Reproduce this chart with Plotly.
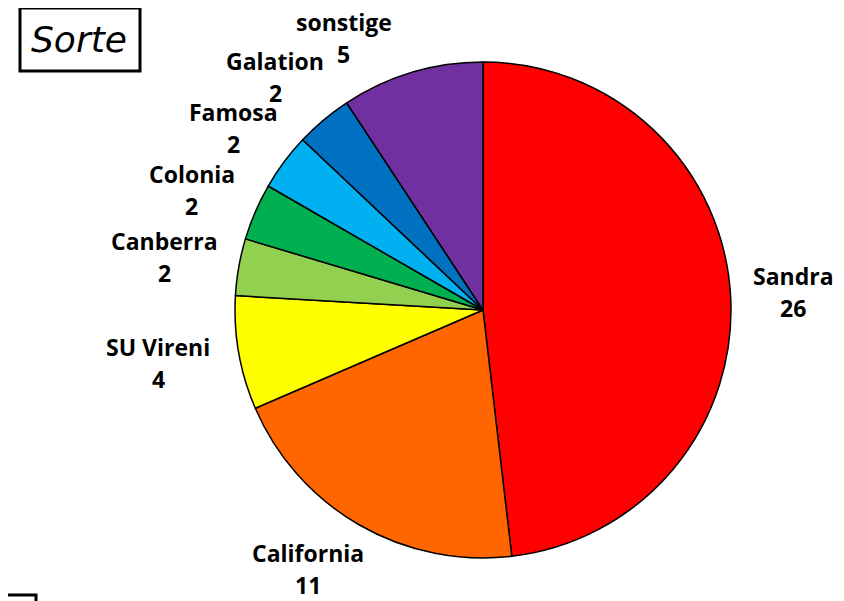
import math
import plotly.graph_objects as go

labels = ["Sandra", "California", "SU Vireni", "Canberra", "Colonia", "Famosa", "Galation", "sonstige"]
values = [26, 11, 4, 2, 2, 2, 2, 5]
colors = ["#FF0000", "#FF6600", "#FFFF00", "#92D050", "#00B050", "#00B0F0", "#0070C0", "#7030A0"]
title_text = "Sorte"

PW, PH = 844, 601          # page size
OFF = 8                    # default body margin of the html page
W, H = PW - OFF, PH - OFF  # figure size
cx, cy, R = 483, 310, 248  # pie centre / radius in page px
FS = 23                    # label font size


def px(x):
    return (x - OFF) / W


def py(y):
    return 1 - (y - OFF) / H


fig = go.Figure(go.Pie(
    labels=labels, values=values, sort=False, direction="clockwise", rotation=0,
    marker=dict(colors=colors, line=dict(color="black", width=1.5)),
    textinfo="none", hoverinfo="label+value", showlegend=False,
    domain=dict(x=[px(cx - R), px(cx + R)], y=[py(cy + R), py(cy - R)]),
))

# label boxes placed outside the slice mid-angles (box edge at a fixed gap)
total = sum(values)
gap = 24
ymin, ymax = 38, 569
annotations = []
cum = 0
for lab, v in zip(labels, values):
    mid = (cum + v / 2) / total * 2 * math.pi
    cum += v
    s, c = math.sin(mid), math.cos(mid)
    bw = 0.56 * FS * max(len(lab), len(str(v)))
    bh = 64
    x = cx + (R + gap) * s + bw / 2 * s
    y = cy - (R + gap) * c - bh / 2 * c
    if y < ymin or y > ymax:
        rl = math.hypot(x - cx, y - cy)
        yc = ymin if y < ymin else ymax
        dy = yc - cy
        dx = math.copysign(math.sqrt(max(rl * rl - dy * dy, 0)), s)
        x, y = cx + dx, yc
    for txt, shift in ((lab, 16), (str(v), -16)):
        annotations.append(dict(
            x=px(x), y=py(y), xref="paper", yref="paper", text="<b>%s</b>" % txt,
            showarrow=False, xanchor="center", yanchor="middle", yshift=shift,
            font=dict(family="Open Sans", size=FS, color="black"),
        ))

annotations.append(dict(
    x=px(79), y=py(40), xref="paper", yref="paper", text=title_text,
    showarrow=False, xanchor="center", yanchor="middle",
    font=dict(family="DejaVu Sans", size=36, color="black", style="italic"),
))

shapes = [
    dict(type="rect", xref="paper", yref="paper", x0=px(20), x1=px(140),
         y0=py(71), y1=py(8), line=dict(color="black", width=3)),
    dict(type="rect", xref="paper", yref="paper", x0=px(-10), x1=px(36),
         y0=py(620), y1=py(595), line=dict(color="black", width=3)),
]

fig.update_layout(
    width=W, height=H, margin=dict(l=0, r=0, t=0, b=0),
    paper_bgcolor="white", plot_bgcolor="white",
    annotations=annotations, shapes=shapes,
)
fig.write_html("out.html")
